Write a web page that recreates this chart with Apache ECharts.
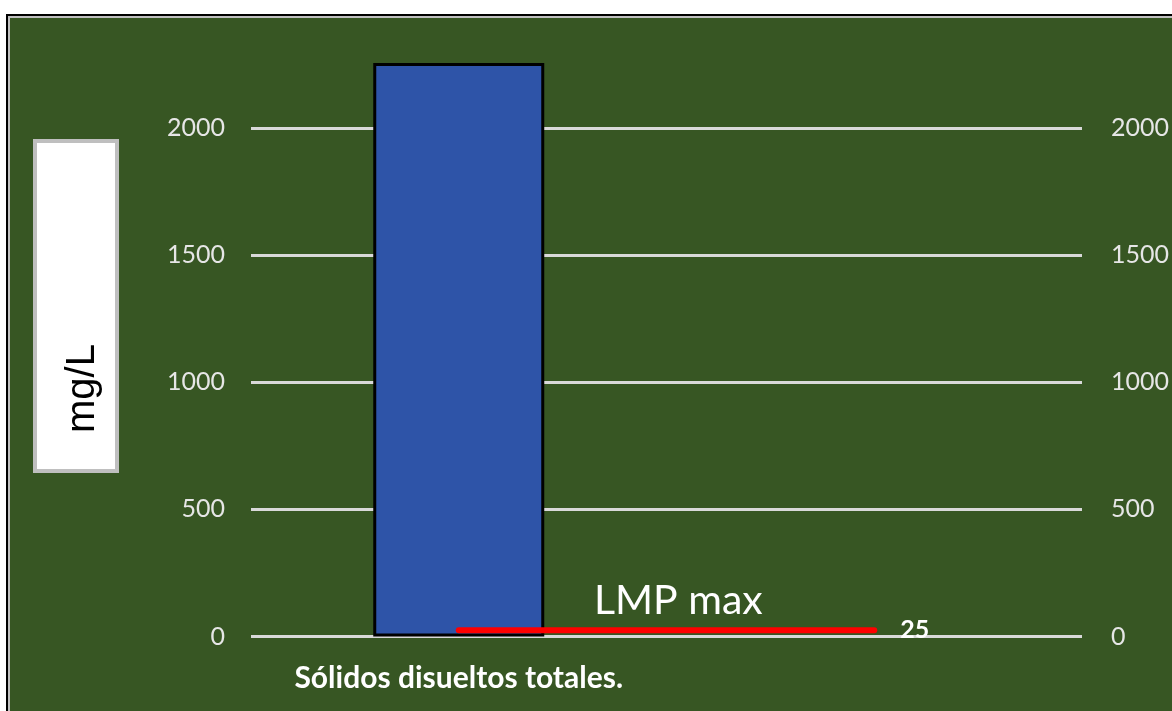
<!DOCTYPE html>
<html>
<head>
<meta charset="utf-8">
<script src="https://cdn.jsdelivr.net/npm/echarts@6/dist/echarts.min.js"></script>
<style>
  html, body { margin: 0; padding: 0; background: #ffffff; width: 1172px; height: 711px; overflow: hidden; }
  #outer { position: absolute; left: 6px; top: 14px; width: 1300px; height: 800px; border-left: 2px solid #000; border-top: 2px solid #000; }
  #inner { position: absolute; left: 8px; top: 16px; width: 1300px; height: 800px; border-left: 2px solid #c0c0c0; border-top: 2px solid #c0c0c0; }
  #chart { position: absolute; left: 10px; top: 18px; width: 1162px; height: 693px; }
</style>
</head>
<body>
<div id="outer"></div>
<div id="inner"></div>
<div id="chart"></div>
<script>
const categories = ['Sólidos disueltos totales.', ''];
const measuredValues = [2256, null];
const limitValues = [25, 25];
const limitName = 'LMP max';
const yAxisTitle = 'mg/L';
const yMin = 0, yMax = 2300, yInterval = 500;

const chart = echarts.init(document.getElementById('chart'));
const labelFont = 'Lato, "Open Sans", sans-serif';
const plain = v => String(v);
chart.setOption({
  backgroundColor: '#375623',
  animation: false,
  grid: { left: 241, width: 842, top: 33.7, bottom: 74.5, containLabel: false },
  xAxis: {
    type: 'category',
    data: categories,
    axisLine: { show: false },
    axisTick: { show: false },
    axisLabel: { interval: 0, color: '#ffffff', fontFamily: labelFont, fontWeight: 'bold', fontSize: 30, margin: 27 }
  },
  yAxis: [
    {
      type: 'value', min: yMin, max: yMax, interval: yInterval, position: 'left',
      axisLine: { show: false }, axisTick: { show: false },
      axisLabel: { formatter: plain, color: '#e6e6e6', fontFamily: labelFont, fontSize: 25, margin: 26, showMaxLabel: false },
      splitLine: { show: true, showMaxLine: false, lineStyle: { color: '#d9d9d9', width: 3 } }
    },
    {
      type: 'value', min: yMin, max: yMax, interval: yInterval, position: 'right',
      axisLine: { show: false }, axisTick: { show: false },
      axisLabel: { formatter: plain, color: '#e6e6e6', fontFamily: labelFont, fontSize: 25, margin: 29, showMaxLabel: false },
      splitLine: { show: false }
    }
  ],
  series: [
    {
      type: 'bar',
      data: measuredValues,
      barWidth: 171,
      itemStyle: { color: '#2e54a8', borderColor: '#000000', borderWidth: 3 },
      z: 2
    },
    {
      type: 'line',
      name: limitName,
      data: limitValues,
      symbol: 'none',
      lineStyle: { color: '#ff0000', width: 6, cap: 'round' },
      endLabel: { show: true, formatter: p => String(p.value), color: '#ffffff', fontFamily: labelFont, fontWeight: 'bold', fontSize: 25, distance: 26 },
      z: 3
    }
  ],
  graphic: [
    {
      type: 'rect', left: 23, top: 121,
      shape: { width: 82, height: 330 },
      style: { fill: '#ffffff', stroke: '#bfbfbf', lineWidth: 4 }
    },
    {
      type: 'text', x: 72.5, y: 370.5, rotation: Math.PI / 2,
      style: { text: yAxisTitle, fill: '#000000', font: '40px "Liberation Sans", Arial, sans-serif', align: 'center', verticalAlign: 'middle' }
    },
    {
      type: 'text', x: 584, y: 583,
      style: { text: limitName, fill: '#ffffff', font: '41px Lato, "Open Sans", sans-serif', align: 'left', verticalAlign: 'middle' }
    }
  ]
});
</script>
</body>
</html>
